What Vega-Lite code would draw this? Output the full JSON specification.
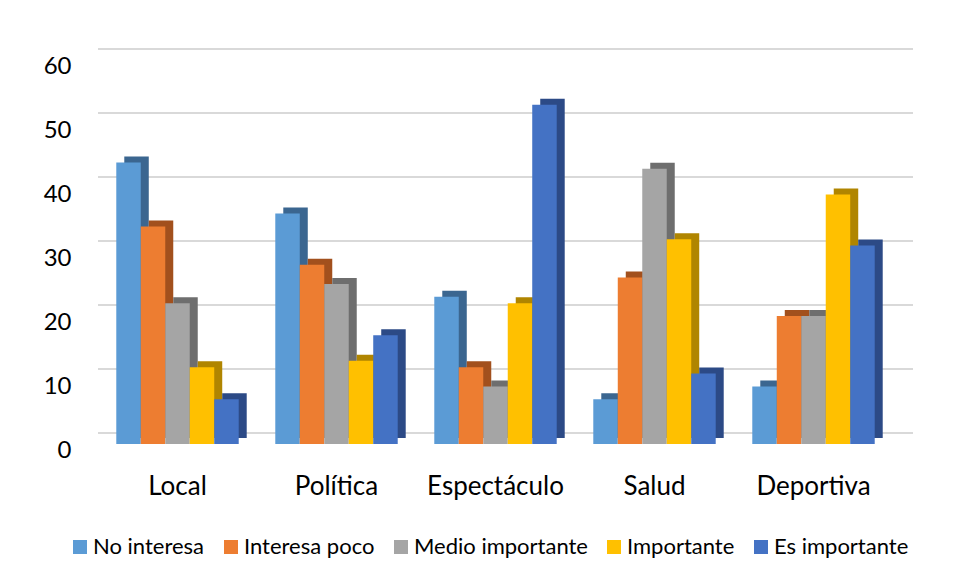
{
  "$schema": "https://vega.github.io/schema/vega-lite/v6.json",
  "autosize": "none",
  "width": 795,
  "height": 384,
  "padding": {"left": 98, "top": 60, "right": 61, "bottom": 137},
  "background": "white",
  "config": {
    "view": {"stroke": null},
    "font": "Lato",
    "axis": {"labelFont": "Lato", "labelColor": "#000000"},
    "legend": {"labelFont": "Lato", "labelColor": "#000000"}
  },
  "datasets": {
    "grid": [{"g": 0}, {"g": 10}, {"g": 20}, {"g": 30}, {"g": 40}, {"g": 50}, {"g": 60}],
    "datos": [
      {"categoria": "Local", "nivel": "No interesa", "valor": 44},
      {"categoria": "Local", "nivel": "Interesa poco", "valor": 34},
      {"categoria": "Local", "nivel": "Medio importante", "valor": 22},
      {"categoria": "Local", "nivel": "Importante", "valor": 12},
      {"categoria": "Local", "nivel": "Es importante", "valor": 7},
      {"categoria": "Política", "nivel": "No interesa", "valor": 36},
      {"categoria": "Política", "nivel": "Interesa poco", "valor": 28},
      {"categoria": "Política", "nivel": "Medio importante", "valor": 25},
      {"categoria": "Política", "nivel": "Importante", "valor": 13},
      {"categoria": "Política", "nivel": "Es importante", "valor": 17},
      {"categoria": "Espectáculo", "nivel": "No interesa", "valor": 23},
      {"categoria": "Espectáculo", "nivel": "Interesa poco", "valor": 12},
      {"categoria": "Espectáculo", "nivel": "Medio importante", "valor": 9},
      {"categoria": "Espectáculo", "nivel": "Importante", "valor": 22},
      {"categoria": "Espectáculo", "nivel": "Es importante", "valor": 53},
      {"categoria": "Salud", "nivel": "No interesa", "valor": 7},
      {"categoria": "Salud", "nivel": "Interesa poco", "valor": 26},
      {"categoria": "Salud", "nivel": "Medio importante", "valor": 43},
      {"categoria": "Salud", "nivel": "Importante", "valor": 32},
      {"categoria": "Salud", "nivel": "Es importante", "valor": 11},
      {"categoria": "Deportiva", "nivel": "No interesa", "valor": 9},
      {"categoria": "Deportiva", "nivel": "Interesa poco", "valor": 20},
      {"categoria": "Deportiva", "nivel": "Medio importante", "valor": 20},
      {"categoria": "Deportiva", "nivel": "Importante", "valor": 39},
      {"categoria": "Deportiva", "nivel": "Es importante", "valor": 31}
    ]
  },
  "layer": [
    {
      "data": {"name": "grid"},
      "mark": {"type": "rule", "color": "#d9d9d9", "strokeWidth": 2, "xOffset": 20, "x2Offset": 20, "yOffset": -11},
      "encoding": {
        "y": {
          "field": "g",
          "type": "quantitative",
          "scale": {"domain": [0, 60], "nice": false},
          "axis": {
            "title": null,
            "values": [0, 10, 20, 30, 40, 50, 60],
            "labelFontSize": 24,
            "labelPadding": 27,
            "labelOffset": 6,
            "domain": false,
            "ticks": false,
            "grid": false
          }
        }
      }
    },
    {
      "data": {"name": "datos"},
      "mark": {"type": "bar", "yOffset": -6, "y2Offset": -6},
      "encoding": {
        "x": {
          "field": "categoria",
          "type": "nominal",
          "sort": ["Local", "Política", "Espectáculo", "Salud", "Deportiva"],
          "scale": {"paddingInner": 0.23, "paddingOuter": 0.115},
          "axis": {
            "title": null,
            "labelAngle": 0,
            "labelFontSize": 26,
            "labelPadding": 29,
            "domain": false,
            "ticks": false,
            "grid": false
          }
        },
        "y": {"field": "valor", "type": "quantitative"},
        "xOffset": {
          "field": "nivel",
          "type": "nominal",
          "sort": ["No interesa", "Interesa poco", "Medio importante", "Importante", "Es importante"],
          "scale": {"range": [8, 130.43]}
        },
        "color": {
          "field": "nivel",
          "type": "nominal",
          "sort": ["No interesa", "Interesa poco", "Medio importante", "Importante", "Es importante"],
          "scale": {
            "domain": ["No interesa", "Interesa poco", "Medio importante", "Importante", "Es importante"],
            "range": ["#3B6690", "#A2501D", "#6E6E6E", "#B08500", "#2C4A86"]
          },
          "legend": null
        }
      }
    },
    {
      "data": {"name": "datos"},
      "mark": {"type": "bar"},
      "encoding": {
        "x": {
          "field": "categoria",
          "type": "nominal",
          "sort": ["Local", "Política", "Espectáculo", "Salud", "Deportiva"]
        },
        "y": {"field": "valor", "type": "quantitative"},
        "xOffset": {
          "field": "nivel",
          "type": "nominal",
          "sort": ["No interesa", "Interesa poco", "Medio importante", "Importante", "Es importante"],
          "scale": {"range": [0, 122.43]}
        },
        "color": {
          "field": "nivel",
          "type": "nominal",
          "sort": ["No interesa", "Interesa poco", "Medio importante", "Importante", "Es importante"],
          "scale": {
            "domain": ["No interesa", "Interesa poco", "Medio importante", "Importante", "Es importante"],
            "range": ["#5B9BD5", "#ED7D31", "#A5A5A5", "#FFC000", "#4472C4"]
          },
          "legend": {
            "title": null,
            "orient": "none",
            "direction": "horizontal",
            "legendX": -29,
            "legendY": 476,
            "symbolType": "square",
            "symbolSize": 196,
            "symbolStrokeWidth": 0,
            "symbolOpacity": 1,
            "labelFontSize": 22,
            "labelOffset": 2,
            "columnPadding": 15,
            "labelLimit": 300
          }
        }
      }
    }
  ],
  "resolve": {"scale": {"color": "independent", "xOffset": "independent"}}
}
